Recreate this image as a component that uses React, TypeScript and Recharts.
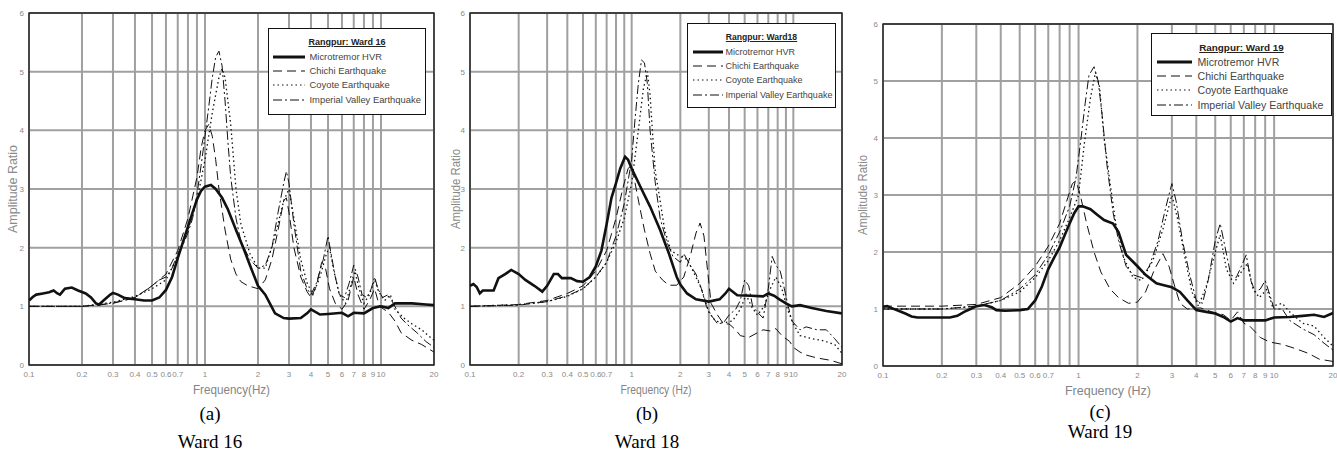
import { LineChart, Line, XAxis, YAxis, CartesianGrid, Legend, ReferenceArea } from 'recharts'

type Pt = [number, number]

// x ticks of the log frequency axis (0.8 and 0.9 have grid lines but no label)
const freqTicks = [0.1, 0.2, 0.3, 0.4, 0.5, 0.6, 0.7, 0.8, 0.9, 1, 2, 3, 4, 5, 6, 7, 8, 9, 10, 20]
const ampTicks = [0, 1, 2, 3, 4, 5, 6]
const seriesNames = ['Microtremor HVR', 'Chichi Earthquake', 'Coyote Earthquake', 'Imperial Valley Earthquake']

// ---- Ward 16 ----
const ward16Hvr: Pt[] = [
  [0.1, 1.1], [0.105, 1.16], [0.11, 1.2], [0.12, 1.22], [0.13, 1.24], [0.138, 1.27], [0.145, 1.22],
  [0.15, 1.2], [0.16, 1.3], [0.175, 1.32], [0.19, 1.27], [0.21, 1.22], [0.225, 1.15], [0.24, 1.05],
  [0.25, 1.03], [0.27, 1.12], [0.29, 1.2], [0.3, 1.23], [0.32, 1.2], [0.35, 1.14], [0.4, 1.12],
  [0.45, 1.1], [0.5, 1.1], [0.55, 1.15], [0.6, 1.28], [0.65, 1.5], [0.7, 1.82], [0.75, 2.1],
  [0.8, 2.36], [0.85, 2.6], [0.9, 2.82], [0.95, 2.97], [1.0, 3.04], [1.08, 3.07], [1.15, 3.0],
  [1.25, 2.85], [1.35, 2.65], [1.5, 2.3], [1.65, 2.0], [1.8, 1.7], [2.0, 1.35], [2.2, 1.2],
  [2.5, 0.88], [2.8, 0.8], [3.0, 0.79], [3.5, 0.8], [3.8, 0.88], [4.0, 0.95], [4.5, 0.86],
  [5.0, 0.87], [6.0, 0.89], [6.5, 0.83], [7.0, 0.89], [8.0, 0.88], [9.0, 0.97], [10, 1.0],
  [11, 0.97], [12, 1.05], [15, 1.05], [18, 1.03], [20, 1.02],
]
const ward16Chichi: Pt[] = [
  [0.1, 1.0], [0.2, 1.0], [0.3, 1.05], [0.4, 1.15], [0.5, 1.35], [0.6, 1.55], [0.7, 1.95], [0.8, 2.5],
  [0.9, 3.2], [0.95, 3.7], [1.0, 4.0], [1.05, 4.1], [1.1, 3.9], [1.15, 3.5], [1.2, 3.0], [1.3, 2.3],
  [1.4, 1.8], [1.5, 1.55], [1.6, 1.42], [1.75, 1.35], [1.9, 1.32], [2.0, 1.3], [2.2, 1.45], [2.4, 1.8],
  [2.6, 2.3], [2.8, 2.8], [2.9, 2.85], [3.0, 2.6], [3.2, 2.0], [3.5, 1.5], [3.8, 1.25], [4.0, 1.15],
  [4.3, 1.35], [4.6, 1.75], [4.8, 1.7], [5.1, 1.3], [5.5, 1.05], [6.0, 0.95], [6.5, 1.1], [7.0, 1.5],
  [7.4, 1.2], [8.0, 0.95], [8.6, 1.1], [9.2, 1.3], [9.8, 1.0], [11, 0.9], [12, 0.75], [13, 0.55],
  [15, 0.42], [17, 0.35], [20, 0.22],
]
const ward16Coyote: Pt[] = [
  [0.1, 1.0], [0.2, 1.0], [0.3, 1.07], [0.4, 1.17], [0.5, 1.3], [0.6, 1.45], [0.7, 1.85], [0.8, 2.3],
  [0.9, 2.8], [1.0, 3.5], [1.1, 4.3], [1.2, 4.9], [1.25, 5.05], [1.3, 4.9], [1.4, 4.1], [1.5, 3.0],
  [1.6, 2.4], [1.8, 1.9], [2.0, 1.65], [2.2, 1.65], [2.5, 2.2], [2.8, 2.8], [3.0, 3.0], [3.2, 2.5],
  [3.5, 1.8], [3.8, 1.4], [4.1, 1.2], [4.5, 1.5], [4.9, 1.9], [5.1, 2.0], [5.4, 1.6], [5.8, 1.2],
  [6.3, 1.05], [6.8, 1.4], [7.1, 1.6], [7.5, 1.3], [8.0, 1.05], [8.6, 1.2], [9.2, 1.45], [9.7, 1.25],
  [10.5, 1.1], [11.3, 1.2], [12, 0.95], [13.5, 0.8], [15, 0.7], [17, 0.6], [20, 0.42],
]
const ward16Imperial: Pt[] = [
  [0.1, 1.0], [0.2, 1.0], [0.25, 1.02], [0.3, 1.06], [0.35, 1.1], [0.4, 1.15], [0.45, 1.25], [0.5, 1.35],
  [0.55, 1.45], [0.6, 1.5], [0.65, 1.65], [0.7, 1.9], [0.75, 2.05], [0.8, 2.25], [0.85, 2.5], [0.9, 2.9],
  [0.95, 3.4], [1.0, 3.9], [1.05, 4.4], [1.1, 4.9], [1.15, 5.25], [1.2, 5.35], [1.25, 5.1], [1.3, 4.5],
  [1.35, 3.8], [1.4, 3.2], [1.5, 2.5], [1.6, 2.1], [1.8, 1.8], [2.0, 1.65], [2.2, 1.7], [2.4, 2.0],
  [2.6, 2.6], [2.8, 3.1], [2.9, 3.3], [3.0, 3.1], [3.2, 2.4], [3.5, 1.6], [3.8, 1.3], [4.0, 1.2],
  [4.3, 1.4], [4.7, 1.8], [5.0, 2.2], [5.2, 1.9], [5.5, 1.5], [5.8, 1.2], [6.2, 1.15], [6.6, 1.4],
  [7.0, 1.7], [7.4, 1.5], [7.8, 1.2], [8.3, 1.15], [8.8, 1.3], [9.2, 1.5], [9.6, 1.3], [10.2, 1.15],
  [11, 1.2], [12, 1.0], [13, 0.8], [14, 0.7], [16, 0.55], [18, 0.4], [20, 0.3],
]

// ---- Ward 18 ----
const ward18Hvr: Pt[] = [
  [0.1, 1.35], [0.105, 1.38], [0.11, 1.33], [0.115, 1.22], [0.12, 1.27], [0.14, 1.27], [0.15, 1.48],
  [0.165, 1.55], [0.18, 1.62], [0.2, 1.55], [0.22, 1.45], [0.25, 1.35], [0.28, 1.25], [0.3, 1.35],
  [0.33, 1.55], [0.35, 1.55], [0.37, 1.48], [0.42, 1.48], [0.46, 1.43], [0.5, 1.42], [0.55, 1.5],
  [0.6, 1.68], [0.65, 1.95], [0.7, 2.4], [0.75, 2.85], [0.8, 3.1], [0.85, 3.35], [0.91, 3.55],
  [0.95, 3.5], [1.0, 3.35], [1.15, 3.0], [1.3, 2.7], [1.5, 2.3], [1.7, 1.9], [1.9, 1.5], [2.0, 1.37],
  [2.2, 1.22], [2.5, 1.12], [3.0, 1.08], [3.5, 1.12], [3.8, 1.22], [4.0, 1.3], [4.5, 1.19], [5.5, 1.18],
  [6.5, 1.17], [7.0, 1.22], [7.6, 1.18], [8.2, 1.12], [9.0, 1.05], [9.8, 1.0], [11, 1.02], [13, 0.97],
  [16, 0.92], [20, 0.88],
]
const ward18Chichi: Pt[] = [
  [0.1, 1.0], [0.2, 1.03], [0.3, 1.1], [0.4, 1.22], [0.5, 1.35], [0.6, 1.6], [0.7, 1.95], [0.8, 2.5],
  [0.88, 3.0], [0.95, 3.35], [1.0, 3.4], [1.05, 3.1], [1.12, 2.7], [1.2, 2.3], [1.3, 1.9], [1.4, 1.6],
  [1.55, 1.45], [1.7, 1.36], [1.9, 1.36], [2.1, 1.5], [2.3, 1.85], [2.5, 2.25], [2.65, 2.42], [2.8, 2.2],
  [2.95, 1.6], [3.1, 1.05], [3.4, 0.85], [3.7, 0.7], [4.0, 0.7], [4.4, 0.6], [4.7, 0.5], [5.3, 0.47],
  [6.0, 0.55], [6.5, 0.6], [7.2, 0.58], [7.8, 0.62], [8.5, 0.5], [9.5, 0.4], [10, 0.3], [11, 0.22],
  [12, 0.17], [14, 0.12], [17, 0.08], [20, 0.02],
]
const ward18Coyote: Pt[] = [
  [0.1, 1.0], [0.2, 1.03], [0.3, 1.08], [0.4, 1.17], [0.5, 1.3], [0.6, 1.5], [0.7, 1.75], [0.8, 2.1],
  [0.9, 2.5], [1.0, 3.1], [1.1, 4.0], [1.18, 4.7], [1.25, 5.0], [1.3, 4.6], [1.35, 3.9], [1.4, 3.3],
  [1.5, 2.8], [1.6, 2.3], [1.75, 1.95], [2.0, 1.85], [2.2, 1.8], [2.4, 1.6], [2.7, 1.3], [3.0, 0.9],
  [3.3, 0.75], [3.7, 0.72], [4.2, 0.75], [4.7, 0.95], [5.1, 1.2], [5.5, 1.0], [6.0, 0.85], [6.6, 1.0],
  [7.2, 1.3], [7.8, 1.5], [8.5, 1.3], [9.2, 0.95], [10, 0.7], [11, 0.5], [13, 0.45], [15, 0.42],
  [18, 0.35], [20, 0.2],
]
const ward18Imperial: Pt[] = [
  [0.1, 1.0], [0.2, 1.02], [0.3, 1.08], [0.4, 1.18], [0.5, 1.3], [0.6, 1.5], [0.7, 1.75], [0.8, 2.2],
  [0.9, 2.75], [1.0, 3.5], [1.05, 4.2], [1.1, 4.8], [1.15, 5.2], [1.2, 5.15], [1.25, 4.8], [1.3, 4.0],
  [1.4, 3.1], [1.5, 2.5], [1.65, 2.1], [1.8, 1.85], [2.0, 1.75], [2.1, 1.9], [2.3, 1.7], [2.5, 1.55],
  [2.7, 1.3], [2.9, 1.0], [3.1, 0.85], [3.4, 0.7], [3.7, 0.72], [4.0, 0.85], [4.4, 0.95], [4.7, 1.1],
  [5.0, 1.45], [5.3, 1.35], [5.6, 1.0], [6.0, 0.9], [6.5, 0.8], [7.0, 1.3], [7.4, 1.85], [7.8, 1.7],
  [8.3, 1.6], [8.8, 1.3], [9.3, 1.0], [9.8, 0.75], [11, 0.6], [12, 0.65], [14, 0.6], [16, 0.6],
  [18, 0.45], [20, 0.3],
]

// ---- Ward 19 ----
const ward19Hvr: Pt[] = [
  [0.1, 1.04], [0.105, 1.05], [0.11, 1.02], [0.12, 0.97], [0.13, 0.92], [0.14, 0.87], [0.15, 0.85],
  [0.18, 0.85], [0.22, 0.85], [0.24, 0.88], [0.26, 0.95], [0.28, 1.0], [0.3, 1.05], [0.33, 1.07],
  [0.36, 1.03], [0.38, 0.98], [0.42, 0.97], [0.5, 0.98], [0.55, 1.0], [0.6, 1.15], [0.65, 1.4],
  [0.7, 1.7], [0.75, 1.9], [0.8, 2.08], [0.85, 2.3], [0.9, 2.5], [0.95, 2.68], [1.0, 2.8],
  [1.05, 2.8], [1.15, 2.75], [1.25, 2.65], [1.35, 2.56], [1.5, 2.5], [1.6, 2.35], [1.75, 1.95],
  [2.0, 1.75], [2.2, 1.6], [2.5, 1.45], [2.7, 1.42], [3.0, 1.38], [3.3, 1.3], [3.6, 1.15], [4.0, 0.98],
  [4.5, 0.95], [5.0, 0.92], [5.5, 0.86], [6.0, 0.78], [6.5, 0.84], [7.0, 0.8], [8.0, 0.8], [9.0, 0.8],
  [10, 0.85], [12, 0.86], [14, 0.88], [16, 0.9], [18, 0.86], [20, 0.93],
]
const ward19Chichi: Pt[] = [
  [0.1, 1.05], [0.2, 1.05], [0.3, 1.08], [0.4, 1.2], [0.5, 1.45], [0.6, 1.75], [0.7, 2.1], [0.8, 2.5],
  [0.88, 2.95], [0.93, 3.2], [0.97, 3.25], [1.02, 3.0], [1.1, 2.5], [1.2, 2.0], [1.3, 1.65], [1.45, 1.35],
  [1.6, 1.2], [1.8, 1.1], [2.0, 1.12], [2.2, 1.3], [2.45, 1.7], [2.7, 1.97], [2.9, 1.75], [3.1, 1.4],
  [3.3, 1.1], [3.6, 1.0], [4.2, 1.02], [4.8, 0.95], [5.5, 0.9], [6.0, 0.8], [6.5, 0.95], [7.0, 0.75],
  [7.5, 0.7], [8.0, 0.6], [8.5, 0.5], [9.5, 0.42], [11, 0.38], [13, 0.3], [15, 0.22], [17, 0.12],
  [20, 0.08],
]
const ward19Coyote: Pt[] = [
  [0.1, 1.0], [0.2, 1.0], [0.3, 1.05], [0.4, 1.15], [0.5, 1.3], [0.6, 1.55], [0.7, 1.85], [0.8, 2.2],
  [0.9, 2.6], [1.0, 3.0], [1.07, 3.9], [1.15, 4.7], [1.22, 5.15], [1.28, 4.9], [1.35, 4.0], [1.45, 3.2],
  [1.55, 2.5], [1.7, 1.9], [1.9, 1.55], [2.1, 1.5], [2.4, 1.85], [2.7, 2.4], [3.0, 3.0], [3.2, 2.6],
  [3.5, 1.9], [3.8, 1.3], [4.1, 1.05], [4.5, 1.4], [5.0, 2.0], [5.3, 2.3], [5.7, 1.7], [6.2, 1.45],
  [6.8, 1.65], [7.3, 1.8], [7.8, 1.35], [8.4, 1.2], [9.2, 1.35], [9.8, 1.05], [11, 1.1], [12, 0.95],
  [14, 0.75], [16, 0.7], [18, 0.5], [20, 0.35],
]
const ward19Imperial: Pt[] = [
  [0.1, 1.0], [0.2, 1.0], [0.3, 1.05], [0.4, 1.15], [0.5, 1.35], [0.6, 1.6], [0.7, 1.95], [0.8, 2.35],
  [0.9, 2.8], [0.97, 3.3], [1.03, 4.0], [1.08, 4.6], [1.13, 5.1], [1.2, 5.25], [1.26, 5.0], [1.32, 4.4],
  [1.4, 3.5], [1.5, 2.7], [1.6, 2.2], [1.75, 1.75], [1.9, 1.6], [2.1, 1.55], [2.3, 1.75], [2.55, 2.2],
  [2.8, 2.8], [3.0, 3.2], [3.15, 2.9], [3.4, 2.2], [3.7, 1.6], [4.0, 1.15], [4.3, 1.1], [4.6, 1.5],
  [5.0, 2.2], [5.3, 2.5], [5.6, 2.1], [6.0, 1.6], [6.4, 1.55], [6.9, 1.8], [7.2, 1.95], [7.6, 1.5],
  [8.0, 1.3], [8.5, 1.35], [9.0, 1.5], [9.5, 1.25], [10, 1.0], [11, 1.0], [12, 0.8], [14, 0.65],
  [16, 0.55], [18, 0.4], [20, 0.28],
]

const lineStyles = [
  { strokeWidth: 2.6, dash: undefined as string | undefined },
  { strokeWidth: 1, dash: '9 5' },
  { strokeWidth: 1.3, dash: '1.5 3' },
  { strokeWidth: 1, dash: '9 3 2 3' },
]

const axisFont = '"Liberation Sans", Arial, sans-serif'

const panels = [
  {
    id: 'a', left: 0, width: 440, yAxisWidth: 29, right: 6, top: 13, bottom: 365,
    title: 'Rangpur: Ward 16', xTitle: 'Frequency(Hz)', xTitleLen: 77, yTitleLen: 88, yTitleX: 17,
    caption: '(a)', ward: 'Ward 16', captionX: 210, capY: 402, wardY: 430,
    series: [ward16Hvr, ward16Chichi, ward16Coyote, ward16Imperial],
    legend: { left: 268, top: 28, width: 158, height: 87, sampleLeft: 5, sampleWidth: 32, textLeft: 42, font: 9.4, titleFont: 9 },
  },
  {
    id: 'b', left: 440, width: 410, yAxisWidth: 30, right: 8, top: 13, bottom: 365,
    title: 'Rangpur: Ward18', xTitle: 'Frequency (Hz)', xTitleLen: 71, yTitleLen: 80, yTitleX: 20,
    caption: '(b)', ward: 'Ward 18', captionX: 647, capY: 402, wardY: 430,
    series: [ward18Hvr, ward18Chichi, ward18Coyote, ward18Imperial],
    legend: { left: 247, top: 23, width: 149, height: 85, sampleLeft: 6, sampleWidth: 30, textLeft: 39, font: 9, titleFont: 8.6 },
  },
  {
    id: 'c', left: 850, width: 487, yAxisWidth: 33, right: 4, top: 24, bottom: 366,
    title: 'Rangpur: Ward 19', xTitle: 'Frequency (Hz)', xTitleLen: 86, yTitleLen: 80, yTitleX: 17,
    caption: '(c)', ward: 'Ward 19', captionX: 1100, capY: 400, wardY: 420,
    series: [ward19Hvr, ward19Chichi, ward19Coyote, ward19Imperial],
    legend: { left: 301, top: 33, width: 181, height: 83, sampleLeft: 6, sampleWidth: 35, textLeft: 47, font: 10.6, titleFont: 9.9 },
  },
]

type Panel = (typeof panels)[number]

const toData = (pts: Pt[]) => pts.map(([x, y]) => ({ x, y }))

function LegendBox({ p }: { p: Panel }) {
  const L = p.legend
  return (
    <div
      style={{
        width: L.width, height: L.height, boxSizing: 'border-box', border: '1.5px solid #111',
        background: '#fff', paddingTop: 6, fontFamily: axisFont,
      }}
    >
      <div style={{ textAlign: 'center', fontWeight: 'bold', fontSize: L.titleFont, lineHeight: '15px', color: '#222' }}>
        <span style={{ textDecoration: 'underline' }}>{p.title}</span>
      </div>
      {seriesNames.map((name, i) => (
        <div key={name} style={{ position: 'relative', height: 14.2, fontSize: L.font, lineHeight: '14px', color: '#444' }}>
          <svg width={L.sampleWidth} height={10} style={{ position: 'absolute', left: L.sampleLeft - 1.5, top: 2 }}>
            <line x1={0} y1={5} x2={L.sampleWidth} y2={5} stroke="#111" strokeWidth={i === 0 ? 3 : 1.2} strokeDasharray={lineStyles[i].dash} />
          </svg>
          <span style={{ position: 'absolute', left: L.textLeft - 1.5, whiteSpace: 'nowrap' }}>{name}</span>
        </div>
      ))}
    </div>
  )
}

function WardChart({ p }: { p: Panel }) {
  const plotMidY = (p.top + p.bottom) / 2
  return (
    <div style={{ position: 'absolute', left: p.left, top: 0 }}>
      <LineChart
        width={p.width}
        height={400}
        margin={{ top: p.top, right: p.right, bottom: 0, left: 0 }}
        style={{ fontFamily: axisFont }}
      >
        <CartesianGrid stroke="#a0a0a0" strokeWidth={2} />
        <XAxis
          dataKey="x"
          type="number"
          scale="log"
          domain={[0.1, 20]}
          allowDataOverflow
          ticks={freqTicks}
          interval={0}
          height={400 - p.bottom}
          tickLine={false}
          axisLine={false}
          tickSize={4}
          tick={{ fontSize: 8, fill: '#8a8a8a' }}
          tickFormatter={(v: number) => (v === 0.8 || v === 0.9 ? '' : String(v))}
          label={{
            content: ({ viewBox }: any) => (
              <text
                x={viewBox.x + viewBox.width / 2}
                y={p.bottom + 29}
                textAnchor="middle"
                fontSize={13}
                fill="#858585"
                textLength={p.xTitleLen}
                lengthAdjust="spacingAndGlyphs"
              >
                {p.xTitle}
              </text>
            ),
          }}
        />
        <YAxis
          type="number"
          domain={[0, 6]}
          ticks={ampTicks}
          width={p.yAxisWidth}
          tickLine={false}
          axisLine={false}
          tickSize={3}
          tick={{ fontSize: 8, fill: '#8a8a8a' }}
          label={{
            content: () => (
              <text
                x={p.yTitleX}
                y={plotMidY}
                transform={`rotate(-90 ${p.yTitleX} ${plotMidY})`}
                textAnchor="middle"
                fontSize={12}
                fill="#8a8a8a"
                textLength={p.yTitleLen}
                lengthAdjust="spacingAndGlyphs"
              >
                Amplitude Ratio
              </text>
            ),
          }}
        />
        {p.series.map((pts, i) => (
          <Line
            key={seriesNames[i]}
            data={toData(pts)}
            dataKey="y"
            name={seriesNames[i]}
            type="linear"
            stroke="#111"
            strokeWidth={lineStyles[i].strokeWidth}
            strokeDasharray={lineStyles[i].dash}
            dot={false}
            activeDot={false}
            isAnimationActive={false}
          />
        ))}
        <ReferenceArea x1={0.1} x2={20} y1={0} y2={6} fill="none" stroke="#222" strokeWidth={1.4} />
        <Legend
          layout="horizontal"
          verticalAlign="middle"
          align="center"
          wrapperStyle={{ left: p.legend.left, top: p.legend.top, width: p.legend.width, height: p.legend.height }}
          content={() => <LegendBox p={p} />}
        />
      </LineChart>
    </div>
  )
}

export default function App() {
  const capStyle = { position: 'absolute' as const, width: 200, textAlign: 'center' as const, fontFamily: '"Liberation Serif", "Times New Roman", serif', fontSize: 19, lineHeight: '24px' }
  return (
    <div style={{ position: 'absolute', left: 0, top: 0, width: 1337, height: 455, background: '#fff', overflow: 'hidden' }}>
      {panels.map((p) => (
        <WardChart key={p.id} p={p} />
      ))}
      {panels.map((p) => (
        <div key={p.id + 'cap'}>
          <div style={{ ...capStyle, left: p.captionX - 100, top: p.capY }}>{p.caption}</div>
          <div style={{ ...capStyle, left: p.captionX - 100, top: p.wardY }}>{p.ward}</div>
        </div>
      ))}
    </div>
  )
}
